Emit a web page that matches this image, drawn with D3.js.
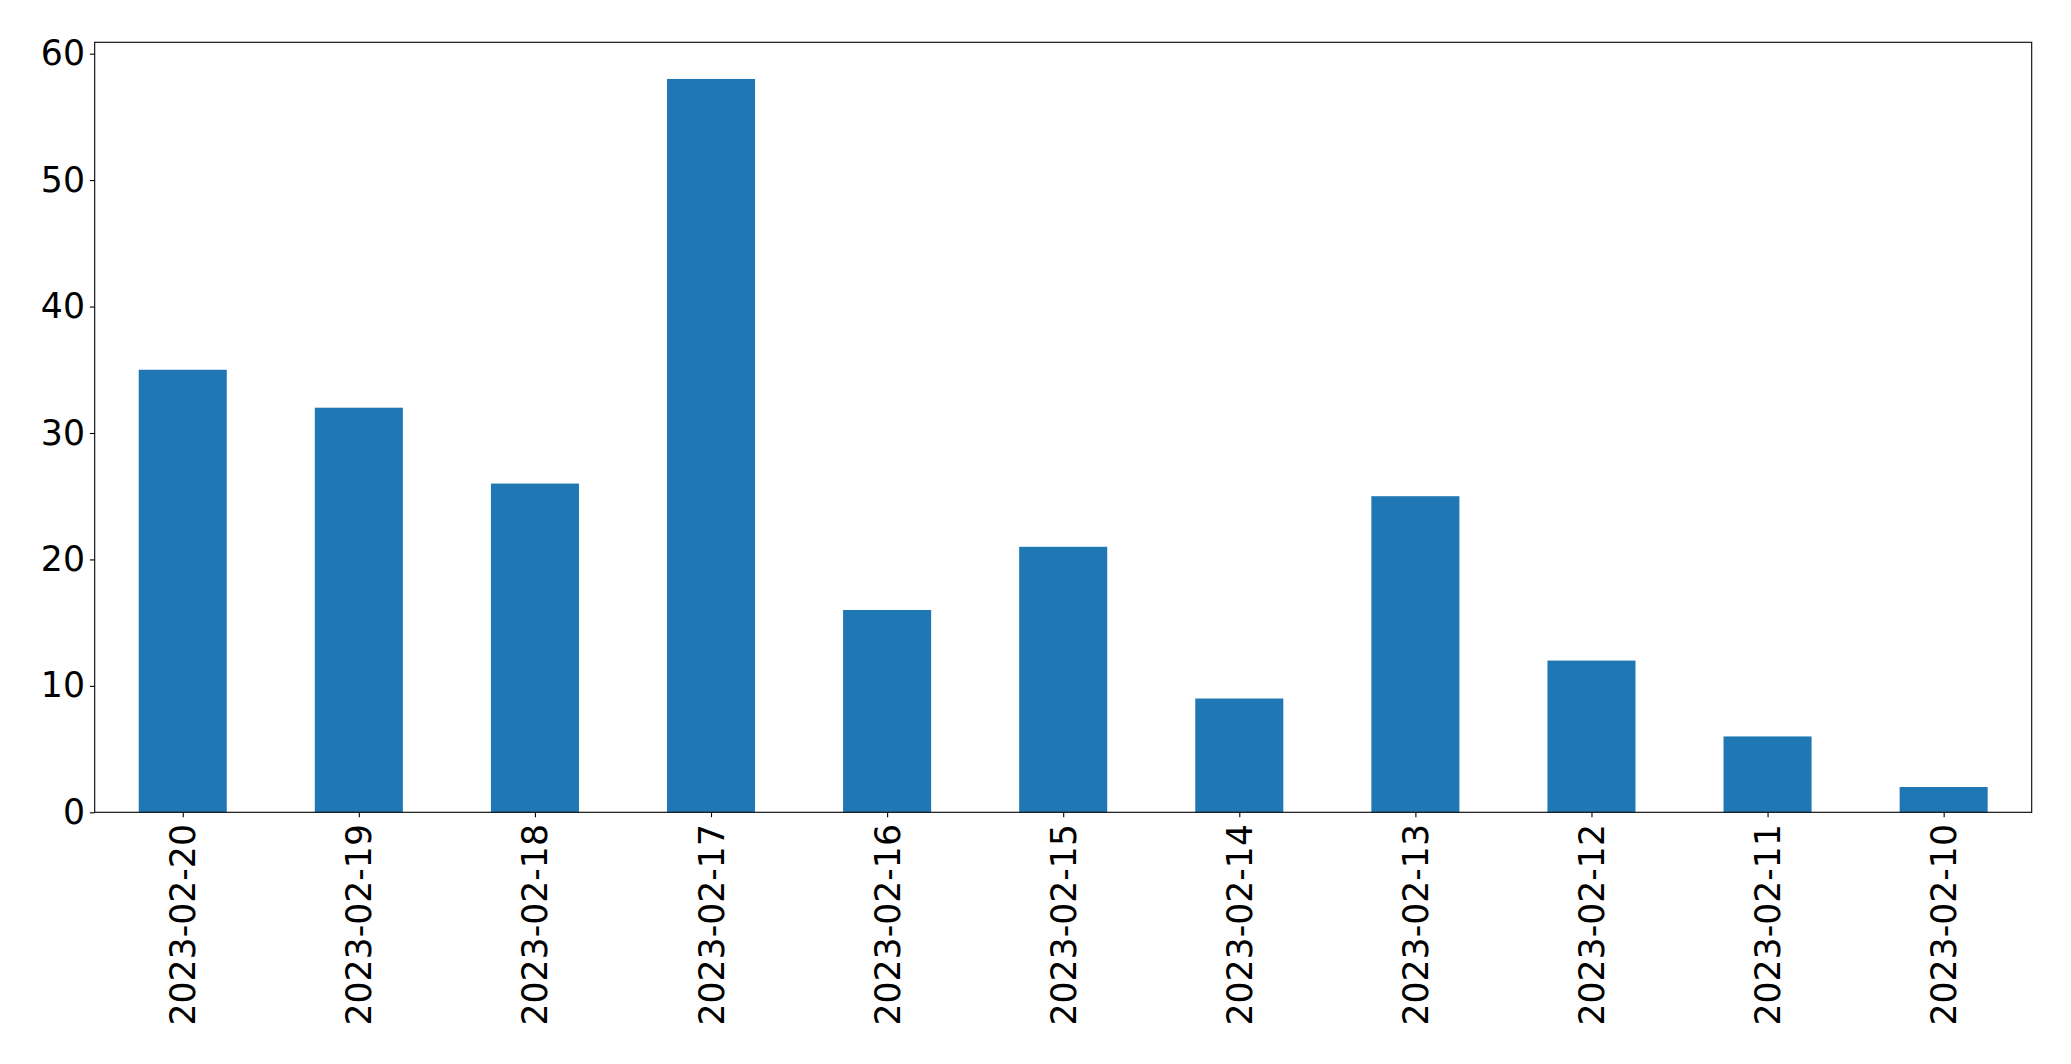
<!DOCTYPE html>
<html><head><meta charset="utf-8">
<script src="https://cdn.jsdelivr.net/npm/d3@7"></script>
<style>body{margin:0;background:#fff}svg{display:block}text{font-family:"DejaVu Sans",sans-serif}</style>
</head><body>
<script>
const categories = ["2023-02-20","2023-02-19","2023-02-18","2023-02-17","2023-02-16","2023-02-15","2023-02-14","2023-02-13","2023-02-12","2023-02-11","2023-02-10"];
const values = [35, 32, 26, 58, 16, 21, 9, 25, 12, 6, 2];
const yTicks = [0, 10, 20, 30, 40, 50, 60];

const W = 2071, H = 1064;
const L = 94.7, R = 2031.7, T = 42.3, B = 812.3;
const fs = 34.7, tickLen = 4.86, pad = 4.86;

const svg = d3.select("body").append("svg").attr("width", W).attr("height", H);
const x = d3.scaleLinear().domain([-0.5, categories.length - 0.5]).range([L, R]);
const y = d3.scaleLinear().domain([0, 58 * 1.05]).range([B, T]);

svg.append("g").selectAll("rect").data(values).join("rect")
  .attr("x", (d, i) => x(i - 0.25)).attr("width", (d, i) => x(i + 0.25) - x(i - 0.25))
  .attr("y", d => y(d)).attr("height", d => y(0) - y(d))
  .attr("fill", "#1f77b4");

const yAxis = svg.append("g").attr("transform", `translate(${L},0)`)
  .call(d3.axisLeft(y).tickValues(yTicks).tickSize(tickLen).tickPadding(pad).tickFormat(d3.format("d")));
yAxis.select(".domain").remove();
yAxis.selectAll("line").attr("stroke", "#000").attr("stroke-width", 1.1);
yAxis.selectAll("text").attr("font-size", fs).attr("fill", "#000").attr("font-family", "DejaVu Sans");

const xAxis = svg.append("g").attr("transform", `translate(0,${B})`)
  .call(d3.axisBottom(x).tickValues(d3.range(categories.length)).tickSize(tickLen).tickPadding(pad).tickFormat(i => categories[i]));
xAxis.select(".domain").remove();
xAxis.selectAll("line").attr("stroke", "#000").attr("stroke-width", 1.1);
xAxis.selectAll("text").attr("font-size", fs).attr("fill", "#000").attr("font-family", "DejaVu Sans")
  .attr("transform", null).attr("x", null).attr("dy", null)
  .attr("y", 0)
  .attr("text-anchor", "end").attr("dominant-baseline", "central")
  .attr("transform", `translate(0,${tickLen + pad + 2}) rotate(-90)`);

svg.append("rect").attr("x", L).attr("y", T).attr("width", R - L).attr("height", B - T)
  .attr("fill", "none").attr("stroke", "#000").attr("stroke-width", 1.1);
</script>
</body></html>
